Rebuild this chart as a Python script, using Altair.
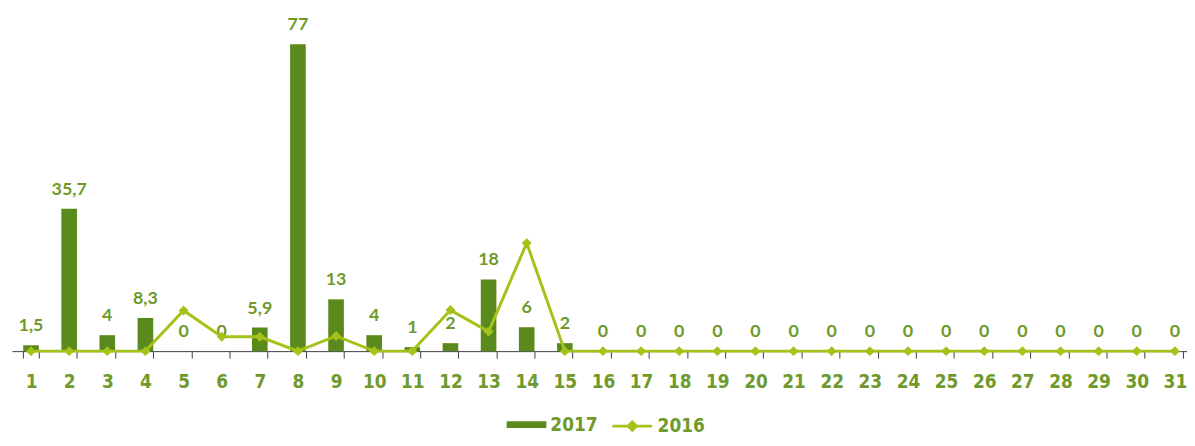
import altair as alt
import pandas as pd

days = list(range(1, 32))
v2017 = [1.5, 35.7, 4, 8.3, 0, 0, 5.9, 77, 13, 4, 1, 2, 18, 6, 2] + [0] * 16
v2016 = [0, 0, 0, 0, 10.2, 3.6, 3.6, 0, 3.8, 0, 0, 10.3, 4.9, 27.1, 0] + [0] * 16

BAR = "#5B8A1C"
LINE = "#A4C21A"
TXT = "#6F9A2B"
NARROW = "DejaVu Sans Condensed, Lato, sans-serif"

df = pd.DataFrame({"day": days, "y2017": v2017, "y2016": v2016})
df["lab"] = [("%g" % v).replace(".", ",") for v in v2017]

xenc = alt.X(
    "day:O",
    scale=alt.Scale(paddingInner=0.59, paddingOuter=0.295, range=[0, 1190]),
    axis=alt.Axis(
        title=None, labelAngle=0, labelFont=NARROW,
        labelFontSize=19, labelFontWeight="bold", labelColor=TXT,
        labelPadding=15, tickSize=7, tickBand="extent", tickColor="#404040",
        domainColor="#404040", grid=False,
    ),
)
yscale = alt.Scale(domain=[0, 80], nice=False)

base = alt.Chart(df)

bars = base.transform_calculate(series="'2017'").mark_bar().encode(
    x=xenc,
    y=alt.Y("y2017:Q", scale=yscale, axis=None),
    fill=alt.Fill(
        "series:N",
        scale=alt.Scale(domain=["2017"], range=[BAR]),
        legend=alt.Legend(
            title=None, orient="none", legendX=498, legendY=375,
            symbolType="M-1,-0.17H1V0.17H-1Z", symbolSize=1600,
            symbolStrokeWidth=0, labelFont=NARROW,
            labelFontSize=19, labelFontWeight="bold", labelColor=TXT,
            labelOffset=4,
        ),
    ),
)

labels = base.mark_text(
    font="Lato", fontSize=18, fontWeight="bold", color=TXT,
    baseline="middle", dy=-19,
).encode(x=xenc, y=alt.Y("y2017:Q", scale=yscale, axis=None), text="lab:N")

line = base.transform_calculate(series="'2016'").mark_line(strokeWidth=3).encode(
    x=xenc,
    y=alt.Y("y2016:Q", scale=yscale, axis=None),
    stroke=alt.Stroke(
        "series:N",
        scale=alt.Scale(domain=["2016"], range=[LINE]),
        legend=alt.Legend(
            title=None, orient="none", legendX=603, legendY=375,
            symbolType="M-1,0H1M-0.2,0L0,-0.2L0.2,0L0,0.2Z", symbolSize=1600,
            symbolStrokeWidth=3, symbolFillColor=LINE,
            labelFont=NARROW,
            labelFontSize=19, labelFontWeight="bold", labelColor=TXT,
            labelOffset=4,
        ),
    ),
)

points = base.mark_point(shape="diamond", size=100, filled=True, color=LINE, opacity=1).encode(
    x=xenc, y=alt.Y("y2016:Q", scale=yscale, axis=None)
)

chart = alt.layer(bars, labels, line, points).properties(
    width=1183, height=321,
    autosize=alt.AutoSizeParams(type="none"),
    padding={"left": 4, "top": 23, "right": 0, "bottom": 86},
).configure_view(stroke=None)

chart.save("out.html", embed_options={"renderer": "svg", "actions": False})
